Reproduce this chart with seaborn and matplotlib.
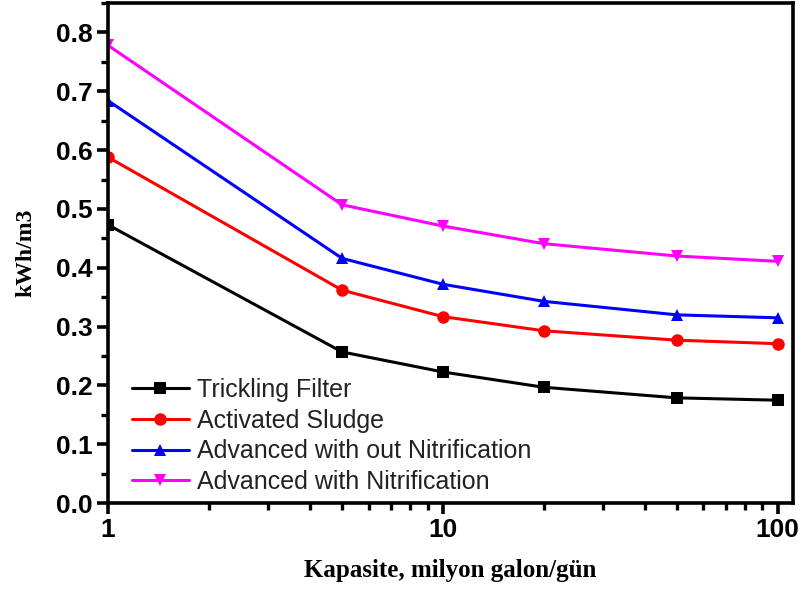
import numpy as np
import pandas as pd
import seaborn as sns
import matplotlib.pyplot as plt
from matplotlib.ticker import FixedLocator, MultipleLocator, LogLocator, NullFormatter

capacity = [1, 5, 10, 20, 50, 100]
trickling = [0.473, 0.257, 0.223, 0.197, 0.179, 0.175]
activated = [0.588, 0.362, 0.317, 0.293, 0.277, 0.271]
adv_without = [0.684, 0.416, 0.372, 0.343, 0.320, 0.315]
adv_with = [0.778, 0.507, 0.471, 0.441, 0.420, 0.411]

series = ["Trickling Filter", "Activated Sludge",
          "Advanced with out Nitrification", "Advanced with Nitrification"]
colors = ["black", "red", "blue", "magenta"]
markers = ["s", "o", "^", "v"]

dfs = []
for name, vals in zip(series, [trickling, activated, adv_without, adv_with]):
    d = pd.DataFrame({"cap": capacity, "kwh": vals})
    d["process"] = name
    dfs.append(d)
df = pd.concat(dfs)

sns.set_style("ticks")
plt.rcParams['font.family'] = ['Liberation Sans', 'DejaVu Sans']
plt.rcParams['text.color'] = 'black'
plt.rcParams['axes.labelcolor'] = 'black'
plt.rcParams['xtick.color'] = 'black'
plt.rcParams['ytick.color'] = 'black'
plt.rcParams['axes.edgecolor'] = 'black'

fig = plt.figure(figsize=(8.03, 5.92), dpi=100)
ax = fig.add_axes([0.1345, 0.150, 0.853, 0.845])

sns.lineplot(data=df, x="cap", y="kwh", hue="process", style="process",
             hue_order=series, style_order=series,
             palette=dict(zip(series, colors)),
             markers=dict(zip(series, markers)), dashes=False,
             markersize=9, linewidth=2.2, markeredgewidth=0, ax=ax)

ax.set_xscale("log")
ax.set_xlim(1, 111)
ax.set_ylim(0, 0.85)
ax.xaxis.set_major_locator(FixedLocator([1, 10, 100]))
ax.xaxis.set_major_formatter(plt.FuncFormatter(lambda v, p: f"{v:g}"))
ax.xaxis.set_minor_locator(LogLocator(base=10, subs=np.arange(2, 10)))
ax.xaxis.set_minor_formatter(NullFormatter())
ax.yaxis.set_major_locator(MultipleLocator(0.1))
ax.yaxis.set_minor_locator(MultipleLocator(0.05))
ax.yaxis.set_major_formatter(plt.FuncFormatter(lambda v, p: f"{v:.1f}"))

for s in ax.spines.values():
    s.set_linewidth(2.6)
    s.set_color("black")
    s.set_visible(True)
ax.tick_params(which="major", direction="out", length=8, width=2.6,
               labelsize=19, pad=3)
ax.tick_params(which="minor", direction="out", length=5, width=2.4)
for lab in ax.get_xticklabels() + ax.get_yticklabels():
    lab.set_fontweight("bold")

ax.set_xlabel("Kapasite, milyon galon/gün", fontsize=18, fontweight="bold",
              family=["Liberation Serif", "DejaVu Serif"], labelpad=12)
ax.set_ylabel("kWh/m3", fontsize=17, fontweight="bold",
              family=["Liberation Serif", "DejaVu Serif"], labelpad=14)

leg = ax.legend(loc="lower left", bbox_to_anchor=(0.009, -0.017), frameon=False,
                fontsize=18, handlelength=2.3, handletextpad=0.3,
                labelspacing=0.27, borderaxespad=0.3, markerscale=1.0,
                labelcolor="#222222")
for line in leg.get_lines():
    line.set_linewidth(2.2)

fig.savefig("out.png", dpi=100)
